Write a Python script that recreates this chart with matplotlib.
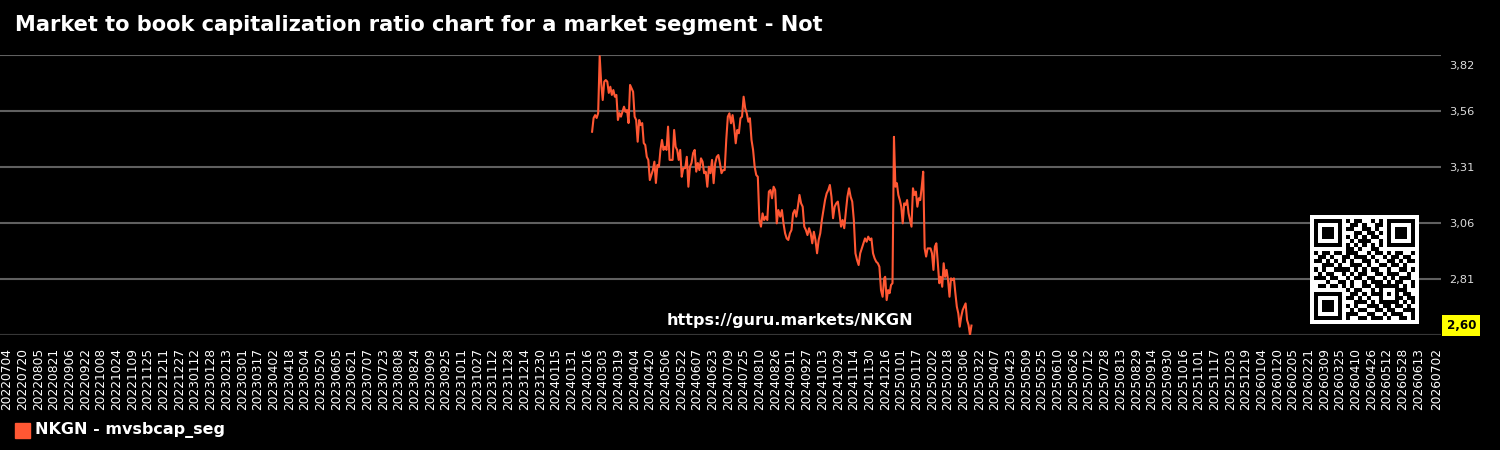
import numpy as np
import pandas as pd
import matplotlib
matplotlib.use('Agg')
import matplotlib.pyplot as plt
from matplotlib.patches import Rectangle
from matplotlib.transforms import ScaledTranslation

# Data (four stretches, each evenly spaced in time)
seg_start = ['2024-02-21', '2024-05-26', '2024-08-31', '2024-12-16']
seg_end   = ['2024-05-24', '2024-08-29', '2024-12-15', '2025-03-14']

vals_a = [3.474, 3.536, 3.549, 3.536, 3.558, 3.815, 3.694, 3.617, 3.700, 3.707,
          3.700, 3.649, 3.677, 3.640, 3.662, 3.632, 3.640, 3.527, 3.558, 3.542,
          3.564, 3.587, 3.564, 3.572, 3.513, 3.685, 3.670, 3.654, 3.542, 3.527,
          3.429, 3.527, 3.504, 3.513, 3.423, 3.414, 3.361, 3.347, 3.256, 3.279,
          3.301, 3.339, 3.243, 3.324, 3.316, 3.392, 3.437, 3.392, 3.406, 3.392,
          3.497, 3.347, 3.347, 3.347, 3.482, 3.406, 3.392, 3.347, 3.392, 3.271,
          3.309]
vals_b = [3.310, 3.361, 3.226, 3.316, 3.333, 3.378, 3.392, 3.294, 3.333, 3.301,
          3.354, 3.339, 3.287, 3.294, 3.226, 3.316, 3.287, 3.347, 3.242, 3.332,
          3.361, 3.369, 3.332, 3.287, 3.301, 3.301, 3.437, 3.542, 3.557, 3.512,
          3.549, 3.497, 3.422, 3.482, 3.467, 3.535, 3.542, 3.632, 3.580, 3.557,
          3.519, 3.535, 3.437, 3.392, 3.316, 3.279, 3.271, 3.076, 3.046, 3.106,
          3.076, 3.091, 3.076, 3.204, 3.211, 3.174, 3.226, 3.211, 3.061, 3.121]
vals_c = [3.091, 3.121, 3.061, 3.016, 2.993, 2.986, 3.016, 3.031, 3.106, 3.121,
          3.091, 3.136, 3.189, 3.151, 3.136, 3.046, 3.031, 3.008, 3.039, 3.016,
          2.971, 3.023, 2.986, 2.926, 2.986, 3.016, 3.076, 3.121, 3.166, 3.196,
          3.211, 3.234, 3.181, 3.084, 3.136, 3.151, 3.159, 3.106, 3.046, 3.076,
          3.039, 3.113, 3.181, 3.219, 3.181, 3.159, 3.076, 2.926, 2.896, 2.873,
          2.926, 2.948, 2.971, 2.993, 2.978, 3.001, 2.986, 2.993, 2.926, 2.903,
          2.888, 2.881, 2.865, 2.760, 2.730, 2.813]
vals_d = [2.820, 2.715, 2.760, 2.746, 2.783, 2.791, 3.451, 3.226, 3.242, 3.189,
          3.166, 3.136, 3.061, 3.151, 3.144, 3.166, 3.106, 3.076, 3.046, 3.219,
          3.189, 3.204, 3.136, 3.174, 3.166, 3.226, 3.294, 2.948, 2.911, 2.948,
          2.948, 2.948, 2.926, 2.851, 2.956, 2.971, 2.881, 2.791, 2.820, 2.775,
          2.881, 2.820, 2.851, 2.805, 2.730, 2.813, 2.805, 2.813, 2.746, 2.685,
          2.655, 2.595, 2.640, 2.670, 2.685, 2.700, 2.625, 2.603, 2.558, 2.600]

x_tick_labels = ['20220704', '20220720', '20220805', '20220821', '20220906', '20220922',
                 '20221008', '20221024', '20221109', '20221125', '20221211', '20221227',
                 '20230112', '20230128', '20230213', '20230301', '20230317', '20230402',
                 '20230418', '20230504', '20230520', '20230605', '20230621', '20230707',
                 '20230723', '20230808', '20230824', '20230909', '20230925', '20231011',
                 '20231027', '20231112', '20231128', '20231214', '20231230', '20240115',
                 '20240131', '20240216', '20240303', '20240319', '20240404', '20240420',
                 '20240506', '20240522', '20240607', '20240623', '20240709', '20240725',
                 '20240810', '20240826', '20240911', '20240927', '20241013', '20241029',
                 '20241114', '20241130', '20241216', '20250101', '20250117', '20250202',
                 '20250218', '20250306', '20250322', '20250407', '20250423', '20250509',
                 '20250525', '20250610', '20250626', '20250712', '20250728', '20250813',
                 '20250829', '20250914', '20250930', '20251016', '20251101', '20251117',
                 '20251203', '20251219', '20260104', '20260120', '20260205', '20260221',
                 '20260309', '20260325', '20260410', '20260426', '20260512', '20260528',
                 '20260613', '20260702']
x_range = ['2022-06-27', '2026-07-06']

y_range = [2.5575, 3.82]
y_tick_labels = ['', '2,81', '3,06', '3,31', '3,56', '3,82']
last_label = '2,60'

title = 'Market to book capitalization ratio chart for a market segment - Not'
url = 'https://guru.markets/NKGN'
series_name = 'NKGN - mvsbcap_seg'

# QR-like badge (hand typed pattern)
qr_rows = [
    '1111111010110010101111111',
    '1000001001101001101000001',
    '1011101011001101001011101',
    '1011101000110110101011101',
    '1011101010101011001011101',
    '1000001001011100101000001',
    '1111111010101010101111111',
    '0000000011010011000000000',
    '1011011011100101101011001',
    '0110100110111010010110110',
    '1101010101001101001101011',
    '0011101001110100110110100',
    '1010011110101011001001101',
    '0101100101011001101110010',
    '1110110010110110010101110',
    '0001001101001011101011001',
    '0110110101001101111110101',
    '0000000010110010100011100',
    '1111111001101011101010110',
    '1000001011010100100011011',
    '1011101000111010111110101',
    '1011101010100111011011010',
    '1011101001011001101100111',
    '1000001011100110010111001',
    '1111111010011011101001101',
]

line_color = '#FF5733'

dates = pd.DatetimeIndex([])
values = []
for s, e, v in zip(seg_start, seg_end, [vals_a, vals_b, vals_c, vals_d]):
    dates = dates.append(pd.date_range(s, e, periods=len(v)))
    values += v

fig = plt.figure(figsize=(15, 4.5), dpi=100, facecolor='black')
ax = fig.add_axes([0.0, 1 - 335/450, 1441/1500, 280/450])
ax.set_facecolor('black')

ax.plot(dates, values, color=line_color, lw=1.5, zorder=3)

ax.set_xlim(pd.to_datetime(x_range))
ax.set_ylim(y_range)

xt = pd.to_datetime(x_tick_labels, format='%Y%m%d')
ax.set_xticks(xt)
ax.set_xticklabels(x_tick_labels, rotation=90, color='white', fontsize=8.8)
ax.tick_params(axis='x', length=0, pad=9)

yt = np.linspace(y_range[0], y_range[1], len(y_tick_labels))
ax.set_yticks(yt)
ax.set_yticklabels(y_tick_labels, color='#dddddd', fontsize=8.2)
ax.yaxis.tick_right()
ax.tick_params(axis='y', length=0, pad=6)
top_lab = ax.get_yticklabels()[-1]
top_lab.set_transform(top_lab.get_transform() + ScaledTranslation(0, -0.1, fig.dpi_scale_trans))
ax.grid(axis='y', color='#606060', lw=1.5)
ax.grid(axis='x', visible=False)
for sp in ax.spines.values():
    sp.set_visible(False)
ax.axhline(y_range[0], color='#333333', lw=2, zorder=2)

ax.annotate(last_label, xy=(1, values[-1]), xycoords=('axes fraction', 'data'),
            xytext=(4, 0), textcoords='offset points', ha='left', va='center',
            fontsize=8.6, fontweight='bold', color='black',
            bbox=dict(boxstyle='square,pad=0.35', fc='yellow', ec='none'),
            annotation_clip=False)

fig.text(15/1500, 1 - 25/450, title, color='white', fontsize=15.1,
         fontweight='bold', va='center', ha='left')
fig.text(790/1500, 1 - 320/450, url, color='white', fontsize=11.5,
         fontweight='bold', va='center', ha='center')

fig.add_artist(Rectangle((15/1500, 1 - 438/450), 15/1500, 15/450,
                         transform=fig.transFigure, color=line_color))
fig.text(35/1500, 1 - 430.5/450, series_name, color='white', fontsize=11.5,
         fontweight='bold', va='center', ha='left')

qr = np.array([[int(c) for c in r] for r in qr_rows])
qr = np.pad(qr, 1)
qax = fig.add_axes([1310/1500, 1 - 324/450, 109/1500, 109/450])
qax.imshow(qr, cmap='gray_r', interpolation='nearest', aspect='auto')
qax.axis('off')

fig.savefig('out.png', dpi=100, facecolor='black')
